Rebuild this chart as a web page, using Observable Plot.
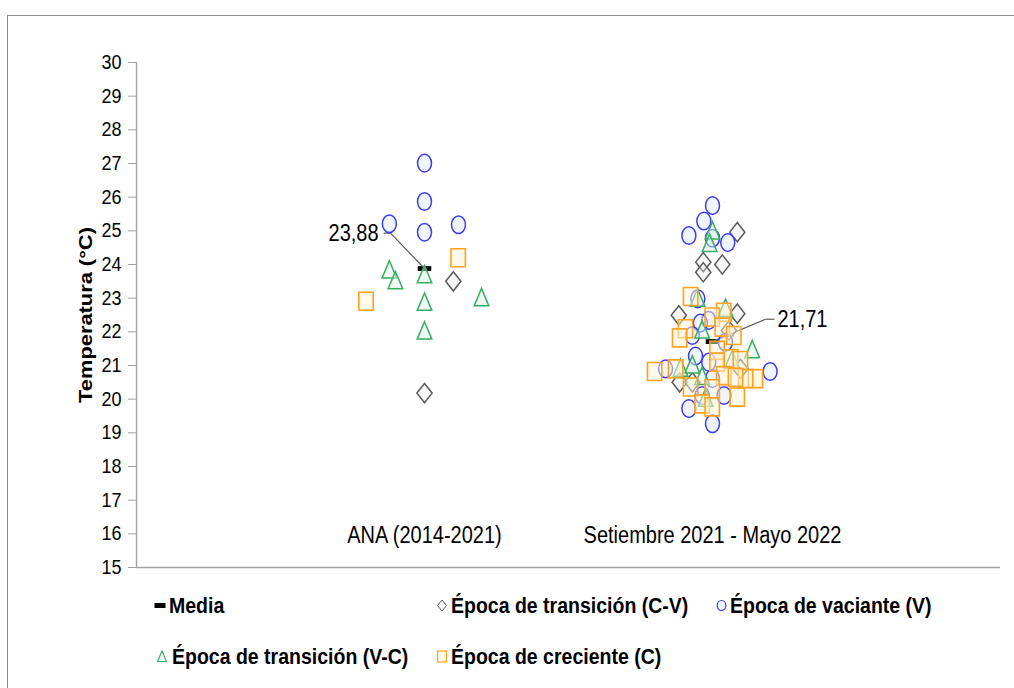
<!DOCTYPE html>
<html>
<head>
<meta charset="utf-8">
<script src="https://cdn.jsdelivr.net/npm/d3@7"></script>
<script src="https://cdn.jsdelivr.net/npm/@observablehq/plot@0.6"></script>
<style>
  body { margin: 0; background: #fff; font-family: "Liberation Sans", Arial, sans-serif; }
  #page { position: relative; width: 1014px; height: 688px; overflow: hidden; background: #fff; }
  #frame { position: absolute; left: 7px; top: 15px; width: 1100px; height: 800px; border: 1px solid #8c8c8c; box-sizing: border-box; }
  #chart { position: absolute; left: 0; top: 0; }
  .leg { position: absolute; display: flex; align-items: center; white-space: nowrap;
         font-weight: bold; font-size: 19.5px; color: #000; transform: translateY(-50%); }
  .leg svg { margin-right: 3px; overflow: visible; }
  .leg span { display: inline-block; transform: scaleY(1.16); }
</style>
</head>
<body>
<div id="page">
  <div id="frame"></div>
  <div id="chart"></div>
  <div id="legend"></div>
</div>
<script>
// ---------------- data ----------------
const categories = ["ANA (2014-2021)", "Setiembre 2021 - Mayo 2022"];
const yTicks = d3.range(15, 31);

// Época de transición (C-V) — diamonds
const cvX = [1.1, 1.0, 2.086, 1.968, 1.968, 2.034, 1.883, 2.086, 2.057, 2.097, 1.886, 1.93];
const cvY = [23.50, 20.18, 24.96, 24.07, 23.77, 24.0, 22.49, 22.54, 22.04, 20.90, 20.50, 20.50];

// Época de vaciante (V) — circles
const vX = [1.0, 1.0, 0.878, 1.0, 1.118,
            2.0, 1.97, 1.918, 2.0, 2.053, 1.949, 1.987, 1.958, 1.93, 2.045, 1.941, 1.987, 1.837, 2.2, 2.0, 2.04, 1.964, 1.918, 2.0];
const vY = [27.01, 25.87, 25.21, 24.96, 25.18,
            25.75, 25.29, 24.86, 24.78, 24.65, 22.98, 22.34, 22.26, 21.89, 21.69, 21.28, 21.10, 20.90, 20.82, 20.61, 20.11, 20.11, 19.72, 19.27];

// Época de transición (V-C) — triangles
const vcX = [0.878, 0.899, 1.0, 1.0, 1.0, 1.198,
             2.0, 1.99, 1.948, 2.045, 1.964, 2.138, 2.068, 1.889, 1.93, 1.964, 1.976];
const vcY = [23.77, 23.45, 23.63, 22.81, 21.96, 22.95,
             24.93, 24.56, 22.93, 22.63, 21.99, 21.40, 21.10, 20.85, 20.95, 20.61, 19.96];

// Época de creciente (C) — squares
const cX = [1.117, 0.797,
            1.924, 2.039, 1.999, 1.906, 1.886, 2.034, 2.074, 2.016, 2.063, 2.097, 1.799, 1.872, 2.016, 2.149, 2.115, 2.039, 2.08, 1.924, 1.999, 2.086, 1.964, 1.999];
const cY = [24.20, 22.91,
            23.05, 22.58, 22.44, 22.09, 21.82, 22.14, 21.89, 21.45, 21.20, 21.15, 20.82, 20.90, 21.10, 20.61, 20.61, 20.70, 20.65, 20.36, 20.31, 20.06, 19.86, 19.77];

// Media
const meanX = [1, 2];
const meanY = [23.88, 21.71];
const meanLabels = ["23,88", "21,71"];
// leader-line offsets (data units) from each mean to its label
const elbowDx = [-0.118, 0.184];
const elbowDy = [1.05, 0.665];
const tailDx = [-0.142, 0.215];

// ---------------- build ----------------
const zipXY = (xs, ys) => xs.map((x, i) => ({x, y: ys[i]}));
const cvRows = zipXY(cvX, cvY);
const vRows = zipXY(vX, vY);
const vcRows = zipXY(vcX, vcY);
const cRows = zipXY(cX, cY);
const means = meanX.map((x, i) => ({
  x, y: meanY[i], label: meanLabels[i],
  ex: x + elbowDx[i], ey: meanY[i] + elbowDy[i], tx: x + tailDx[i]
}));

function ellipse(ctx, rx, ry) {
  const k = 0.5523;
  ctx.moveTo(rx, 0);
  ctx.bezierCurveTo(rx, ry * k, rx * k, ry, 0, ry);
  ctx.bezierCurveTo(-rx * k, ry, -rx, ry * k, -rx, 0);
  ctx.bezierCurveTo(-rx, -ry * k, -rx * k, -ry, 0, -ry);
  ctx.bezierCurveTo(rx * k, -ry, rx, -ry * k, rx, 0);
  ctx.closePath();
}
const symEllipse = {draw(ctx) { ellipse(ctx, 7, 8.8); }};
const symDiamond = {draw(ctx) { ctx.moveTo(0, -9.6); ctx.lineTo(7.6, 0); ctx.lineTo(0, 9.6); ctx.lineTo(-7.6, 0); ctx.closePath(); }};
const symSquare = {draw(ctx) { ctx.rect(-7.2, -9, 14.4, 18); }};
const symTriangle = {draw(ctx) { ctx.moveTo(0, -11.5); ctx.lineTo(7.3, 5.8); ctx.lineTo(-7.3, 5.8); ctx.closePath(); }};
const symDash = {draw(ctx) { ctx.rect(-6.8, -2.4, 13.6, 4.8); }};

const FONT = '"Liberation Sans", Arial, sans-serif';
const AXIS = "#a3a3a3";

const chart = Plot.plot({
  width: 1014,
  height: 580,
  marginLeft: 136,
  marginRight: 14,
  marginTop: 62,
  marginBottom: 13,
  style: {fontFamily: FONT, background: "transparent", overflow: "visible", color: "#000"},
  x: {domain: [0, 3], axis: null},
  y: {domain: [15, 30], axis: null},
  marks: [
    Plot.ruleX([0], {stroke: AXIS, strokeWidth: 1.4}),
    Plot.ruleY([15], {stroke: AXIS, strokeWidth: 1.4}),
    Plot.axisY({ticks: yTicks, tickSize: 8, tickPadding: 7, stroke: AXIS, fill: "#000", fontSize: 18, label: null, tickFormat: d => String(d)}),
    Plot.text(categories, {x: (d, i) => i + 1, y: 15, dy: -32, text: d => d, fontSize: 20, fill: "#000"}),
    Plot.text(["Temperatura (°C)"], {frameAnchor: "left", textAnchor: "middle", text: d => d, rotate: -90, dx: -51, fontSize: 19, fontWeight: "bold", fill: "#000"}),
    // Media
    Plot.dot(means, {x: "x", y: "y", symbol: symDash, fill: "#000", stroke: "none"}),
    // leader lines + labels
    Plot.link(means, {x1: "x", y1: "y", x2: "ex", y2: "ey", stroke: "#5a5a5a", strokeWidth: 1.2}),
    Plot.link(means, {x1: "ex", y1: "ey", x2: "tx", y2: "ey", stroke: "#5a5a5a", strokeWidth: 1.2}),
    Plot.text(means.filter(d => d.tx < d.x), {x: "tx", y: "ey", text: "label", textAnchor: "end", dx: -5, fontSize: 20, fill: "#000"}),
    Plot.text(means.filter(d => d.tx > d.x), {x: "tx", y: "ey", text: "label", textAnchor: "start", dx: 3, fontSize: 20, fill: "#000"}),
    // series
    Plot.dot(cvRows, {x: "x", y: "y", symbol: symDiamond, stroke: "#5a5a5a", strokeWidth: 1.5, fill: "#e8e8e8", fillOpacity: 0.4}),
    Plot.dot(vRows, {x: "x", y: "y", symbol: symEllipse, stroke: "#3b3bf2", strokeWidth: 1.5, fill: "#e2eafa", fillOpacity: 0.5}),
    Plot.dot(vcRows, {x: "x", y: "y", symbol: symTriangle, stroke: "#35ad62", strokeWidth: 1.5, fill: "#dff2e5", fillOpacity: 0.5}),
    Plot.dot(cRows, {x: "x", y: "y", symbol: symSquare, stroke: "#ffa21f", strokeWidth: 1.6, fill: "#fff4d6", fillOpacity: 0.5})
  ]
});

// the reference is slightly stretched vertically: stretch text glyphs the same way
const STRETCH = 1.15;
chart.querySelectorAll("text").forEach(t => {
  let tr = t.getAttribute("transform");
  if (!tr) {
    const x = +(t.getAttribute("x") || 0), y = +(t.getAttribute("y") || 0);
    t.removeAttribute("x"); t.removeAttribute("y");
    tr = `translate(${x},${y})`;
  }
  t.setAttribute("transform", tr + (/rotate/.test(tr) ? ` scale(${STRETCH},1)` : ` scale(1,${STRETCH})`));
});
document.getElementById("chart").appendChild(chart);

// ---------------- legend ----------------
const legendItems = [
  {label: "Media", sym: "dash", left: 154, top: 605},
  {label: "Época de transición (C-V)", sym: "diamond", left: 436, top: 605},
  {label: "Época de vaciante (V)", sym: "circle", left: 716, top: 605},
  {label: "Época de transición (V-C)", sym: "triangle", left: 155, top: 656},
  {label: "Época de creciente (C)", sym: "square", left: 436, top: 656}
];
const legSvg = {
  dash: '<svg width="12" height="12"><rect x="0.5" y="3.5" width="11" height="5" fill="#000"/></svg>',
  diamond: '<svg width="12" height="14"><path d="M6,1.5L10.5,7L6,12.5L1.5,7Z" fill="#fff" stroke="#5a5a5a" stroke-width="1"/></svg>',
  circle: '<svg width="11" height="14"><ellipse cx="5.5" cy="7" rx="4.3" ry="5" fill="#f2f6fd" stroke="#3b3bf2" stroke-width="1.2"/></svg>',
  triangle: '<svg width="14" height="14"><path d="M7,1.5L11.5,12L2.5,12Z" fill="#f2faf4" stroke="#35ad62" stroke-width="1.1"/></svg>',
  square: '<svg width="12" height="14"><rect x="1.5" y="1.5" width="9" height="11" fill="#fffaec" stroke="#ffa21f" stroke-width="1.2"/></svg>'
};
const legend = document.getElementById("legend");
for (const it of legendItems) {
  const div = document.createElement("div");
  div.className = "leg";
  div.style.left = it.left + "px";
  div.style.top = it.top + "px";
  div.innerHTML = legSvg[it.sym] + "<span>" + it.label + "</span>";
  legend.appendChild(div);
}
</script>
</body>
</html>
